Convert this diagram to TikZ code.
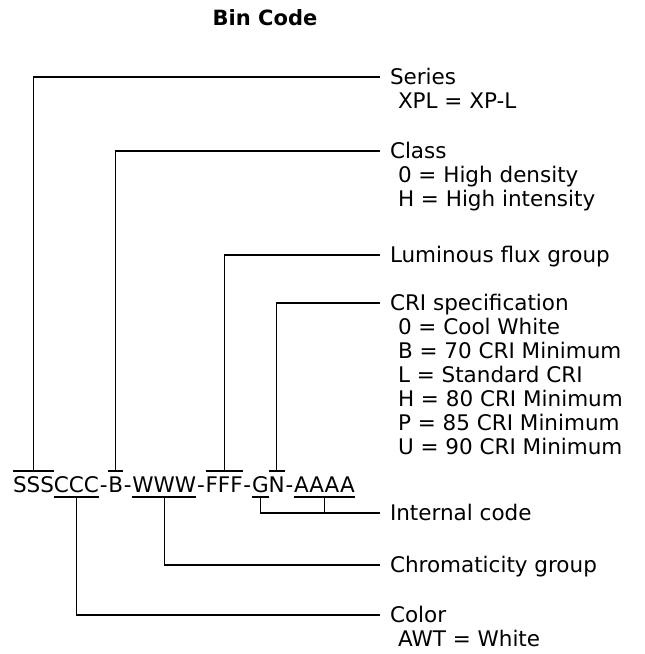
\documentclass[tikz,border=0pt]{standalone}
\usepackage{fontspec}
\setmainfont{DejaVu Sans}
\usetikzlibrary{calc}
\begin{document}
\begin{tikzpicture}[x=1pt,y=1pt]
\tikzstyle{every node}+=[inner sep=0pt, outer sep=0pt]
\tikzstyle{code}=[font=\fontsize{21.5}{24}\selectfont, anchor=base west, text height=22pt, text depth=4pt]
\tikzstyle{hyph}=[code, inner xsep=0.8pt]
\tikzstyle{head}=[font=\fontsize{21.5}{24}\selectfont, anchor=west, text height=15pt, text depth=0pt, outer xsep=10pt]
\tikzstyle{sub}=[font=\fontsize{21.5}{24}\selectfont, anchor=base west]
\tikzstyle{wire}=[line width=1.2pt]
\useasboundingbox (0,0) rectangle (645,654);
% title
\node[font=\fontsize{21}{24}\selectfont\bfseries] (title) at (265,636) {Bin Code};
% the code, piece by piece
\node[code] (sss) at (13,161) {SSS};
\node[code] (ccc) at (sss.base east) {CCC};
\node[hyph] (d1) at (ccc.base east) {-};
\node[code] (bb) at (d1.base east) {B};
\node[hyph] (d2) at (bb.base east) {-};
\node[code] (www) at (d2.base east) {WWW};
\node[hyph] (d3) at (www.base east) {-};
\node[code] (fff) at (d3.base east) {FFF};
\node[hyph] (d4) at (fff.base east) {-};
\node[code] (gg) at (d4.base east) {G};
\node[code] (nn) at (gg.base east) {N};
\node[hyph] (d5) at (nn.base east) {-};
\node[code] (aaaa) at (d5.base east) {AAAA};
% headings
\node[head] (series) at (380,577) {Series};
\node[head] (class) at (380,503) {Class};
\node[head] (lum) at (380,399) {Luminous flux group};
\node[head] (cri) at (380,351) {CRI specification};
\node[head] (internal) at (380,141) {Internal code};
\node[head] (chrom) at (380,89) {Chromaticity group};
\node[head] (color) at (380,39) {Color};
% values
\node[sub] (series1) at ($(series.base west)+(18,-24)$) {XPL = XP-L};
\foreach \t [count=\i] in {0 = High density, H = High intensity}
  \node[sub] (class\i) at ($(class.base west)+(18,-24*\i)$) {\t};
\foreach \t [count=\i] in {0 = Cool White, B = 70 CRI Minimum, L = Standard CRI,
    H = 80 CRI Minimum, P = 85 CRI Minimum, U = 90 CRI Minimum}
  \node[sub] (cri\i) at ($(cri.base west)+(18,-24*\i)$) {\t};
\node[sub] (color1) at ($(color.base west)+(18,-24)$) {AWT = White};
% bars over and under the code
\foreach \n in {sss,bb,fff,nn}
  \draw[wire] (\n.north west) -- (\n.north east);
\foreach \n in {ccc,www,gg,aaaa}
  \draw[wire] (\n.south west) -- (\n.south east);
% connectors
\draw[wire] (sss.north) |- (series.west);
\draw[wire] (bb.north) |- (class.west);
\draw[wire] (fff.north) |- (lum.west);
\draw[wire] (nn.north) |- (cri.west);
\draw[wire] (gg.south) |- (internal.west);
\draw[wire] (aaaa.south) |- (internal.west);
\draw[wire] (www.south) |- (chrom.west);
\draw[wire] (ccc.south) |- (color.west);
\end{tikzpicture}
\end{document}
